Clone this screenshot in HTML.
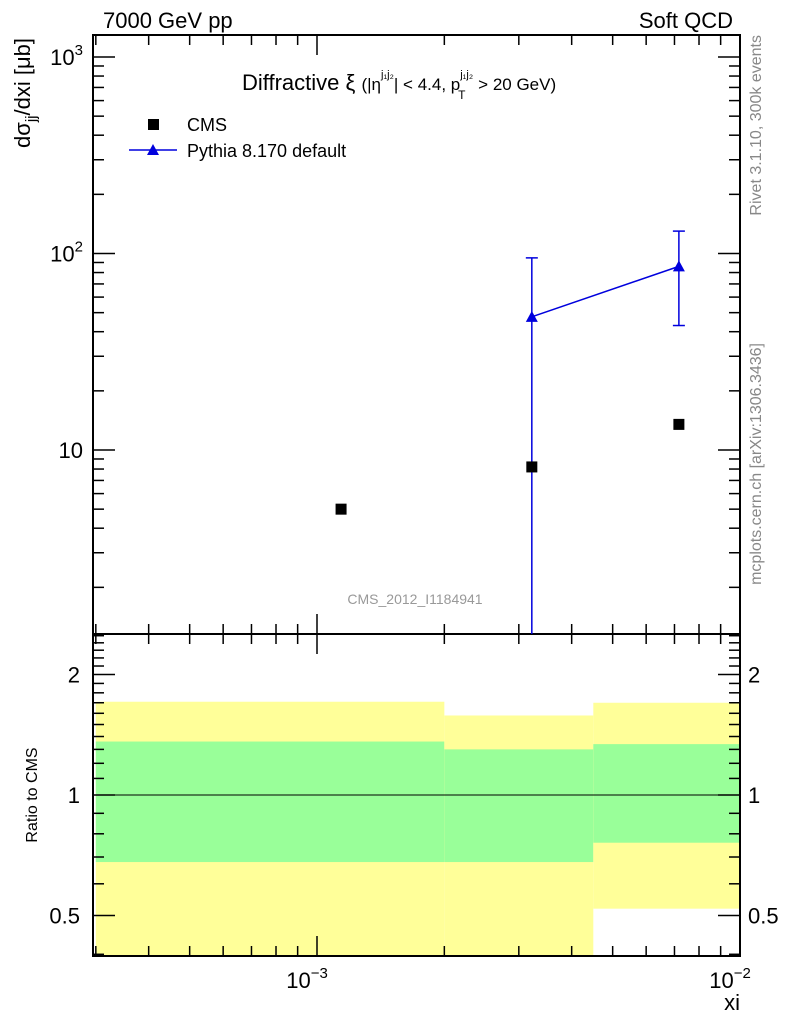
<!DOCTYPE html>
<html><head><meta charset="utf-8"><style>
body{margin:0;background:#fff;}
svg{display:block;font-family:"Liberation Sans",sans-serif;}
</style></head><body>
<svg id="c" width="786" height="1024" xmlns="http://www.w3.org/2000/svg"></svg>
<script>
const cmsX=[1.14e-3,3.22e-3,7.17e-3];
const cmsY=[5.0,8.2,13.5];
const pyX=[3.22e-3,7.17e-3];
const pyY=[47.6,86];
const pyUp=[95,130];
const pyDn=[0.5,43];
const binEdges=[3e-4,2e-3,4.5e-3,1e-2];
const yellowHi=[1.71,1.58,1.70];
const yellowLo=[0.3,0.3,0.52];
const greenHi=[1.36,1.30,1.34];
const greenLo=[0.68,0.68,0.76];
const yMainTicks=[10,100,1000];
const yRatioTicks=[0.5,1,2];
const yRatioLabels=["0.5","1","2"];

const L=93,R=740,T=35,M=634,B=956;
const X=v=>317+423*(Math.log10(v)+3);
const Y=v=>450-196.5*(Math.log10(v)-1);
const YR=v=>795-120.5*Math.log2(v);
const svg=document.getElementById('c');
const NS="http://www.w3.org/2000/svg";
function el(t,a,txt){const e=document.createElementNS(NS,t);for(const k in a)e.setAttribute(k,a[k]);if(txt!==undefined)e.textContent=txt;svg.appendChild(e);return e;}
const clamp=(v,a,b)=>Math.max(a,Math.min(b,v));

for(let i=0;i<3;i++){
  const x1=X(binEdges[i]),x2=X(binEdges[i+1]);
  let e=el('rect',{x:x1,y:clamp(YR(yellowHi[i]),M,B),width:x2-x1,height:clamp(YR(yellowLo[i]),M,B)-clamp(YR(yellowHi[i]),M,B),fill:'#ffff99'});
  
  e=el('rect',{x:x1,y:YR(greenHi[i]),width:x2-x1,height:YR(greenLo[i])-YR(greenHi[i]),fill:'#99ff99'});
  
}
el('line',{x1:L,x2:R,y1:YR(1),y2:YR(1),stroke:'#000','stroke-width':1,});

el('rect',{x:L,y:T,width:R-L,height:M-T,fill:'none',stroke:'#000','stroke-width':2,});
el('rect',{x:L,y:M,width:R-L,height:B-M,fill:'none',stroke:'#000','stroke-width':2,});

for(let d=-4;d<=-2;d++)for(let m=1;m<10;m++){
  const v=m*Math.pow(10,d);if(v<2.95e-4||v>1.001e-2)continue;
  const x=X(v),len=m==1?20:10;
  [[T,1],[M,1],[M,-1],[B,-1]].forEach(([y0,s])=>el('line',{x1:x,x2:x,y1:y0,y2:y0+s*len,stroke:'#000','stroke-width':1.5}));
}
let t=el('text',{x:X(1e-3)-10,y:988,'font-size':22,'text-anchor':'middle',});
t.innerHTML='10<tspan font-size="15" dy="-10">−3</tspan>';
t=el('text',{x:X(1e-2)-10,y:988,'font-size':22,'text-anchor':'middle',});
t.innerHTML='10<tspan font-size="15" dy="-10">−2</tspan>';
el('text',{x:740,y:1010,'font-size':22,'text-anchor':'end',},'xi');

for(let d=0;d<=3;d++)for(let m=1;m<10;m++){
  const v=m*Math.pow(10,d);const y=Y(v);if(y<T||y>M)continue;
  const len=m==1?22:11;
  el('line',{x1:L,x2:L+len,y1:y,y2:y,stroke:'#000','stroke-width':1.5});
  el('line',{x1:R,x2:R-len,y1:y,y2:y,stroke:'#000','stroke-width':1.5});
}
yMainTicks.forEach((v)=>{
  const e=el('text',{x:83,y:Y(v)+8,'font-size':22,'text-anchor':'end'});
  const ex=Math.round(Math.log10(v));
  if(ex==1)e.textContent='10';else e.innerHTML='10<tspan font-size="15" dy="-10">'+ex+'</tspan>';
  });
for(let k=3;k<=25;k++){const v=k/10;const y=YR(v);if(y<M||y>B)continue;
  const len=(v==0.5||v==1||v==2)?22:11;
  el('line',{x1:L,x2:L+len,y1:y,y2:y,stroke:'#000','stroke-width':1.5});
  el('line',{x1:R,x2:R-len,y1:y,y2:y,stroke:'#000','stroke-width':1.5});
}
yRatioTicks.forEach((v,i)=>{
  let e=el('text',{x:80,y:YR(v)+8,'font-size':22,'text-anchor':'end'},yRatioLabels[i]);
  e=el('text',{x:748,y:YR(v)+8,'font-size':22},yRatioLabels[i]);
});

let pts=pyX.map((x,i)=>X(x)+','+Y(pyY[i])).join(' ');
el('polyline',{points:pts,fill:'none',stroke:'#0000dd','stroke-width':1.5,});
pyX.forEach((x,i)=>{
  const px=X(x);
  let e=el('line',{x1:px,x2:px,y1:Y(pyUp[i]),y2:Math.min(Y(pyDn[i]),M),stroke:'#0000dd','stroke-width':1.5});
  
  [pyUp[i],pyDn[i]].forEach(v=>{const y=Y(v);if(y<M)el('line',{x1:px-6,x2:px+6,y1:y,y2:y,stroke:'#0000dd','stroke-width':1.5});});
  const py=Y(pyY[i]);
  e=el('polygon',{points:`${px-6},${py+5} ${px+6},${py+5} ${px},${py-6}`,fill:'#0000dd'});
  
});
cmsX.forEach((x,i)=>{const e=el('rect',{x:X(x)-5.5,y:Y(cmsY[i])-5.5,width:11,height:11,fill:'#000'});
  });

el('text',{x:103,y:28,'font-size':22,},'7000 GeV pp');
el('text',{x:733,y:28,'font-size':22,'text-anchor':'end',},'Soft QCD');
const tt=el('text',{x:242,y:90,'font-size':22,});
tt.innerHTML='Diffractive ξ <tspan font-size="17">(|η</tspan><tspan font-size="11" dy="-12">j₁j₂</tspan><tspan font-size="17" dy="12">| &lt; 4.4, p</tspan><tspan font-size="11" dy="-12">j₁j₂</tspan><tspan font-size="12" dx="-15" dy="21">T</tspan><tspan font-size="17" dy="-9" dx="8"> &gt; 20 GeV)</tspan>';
el('rect',{x:148,y:119,width:11,height:11,fill:'#000',});
el('text',{x:187,y:131,'font-size':18,},'CMS');
el('line',{x1:129,x2:177,y1:150,y2:150,stroke:'#0000dd','stroke-width':1.5,});
el('polygon',{points:'147,155 159,155 153,144',fill:'#0000dd',});
el('text',{x:187,y:157,'font-size':18,},'Pythia 8.170 default');
el('text',{x:415,y:604,'font-size':14,fill:'#999','text-anchor':'middle',},'CMS_2012_I1184941');
const yt=el('text',{transform:'translate(30,38) rotate(-90)','font-size':22,'text-anchor':'end',});
yt.innerHTML='dσ<tspan font-size="15" dy="6">jj</tspan><tspan dy="-6">/dxi [μb]</tspan>';
el('text',{transform:'translate(37,795) rotate(-90)','font-size':16,'text-anchor':'middle',},'Ratio to CMS');
el('text',{transform:'translate(761,35) rotate(-90)','font-size':16,fill:'#888','text-anchor':'end',},'Rivet 3.1.10,  300k events');
el('text',{transform:'translate(761,343) rotate(-90)','font-size':16,fill:'#888','text-anchor':'end',},'mcplots.cern.ch [arXiv:1306.3436]');
</script>
</body></html>
